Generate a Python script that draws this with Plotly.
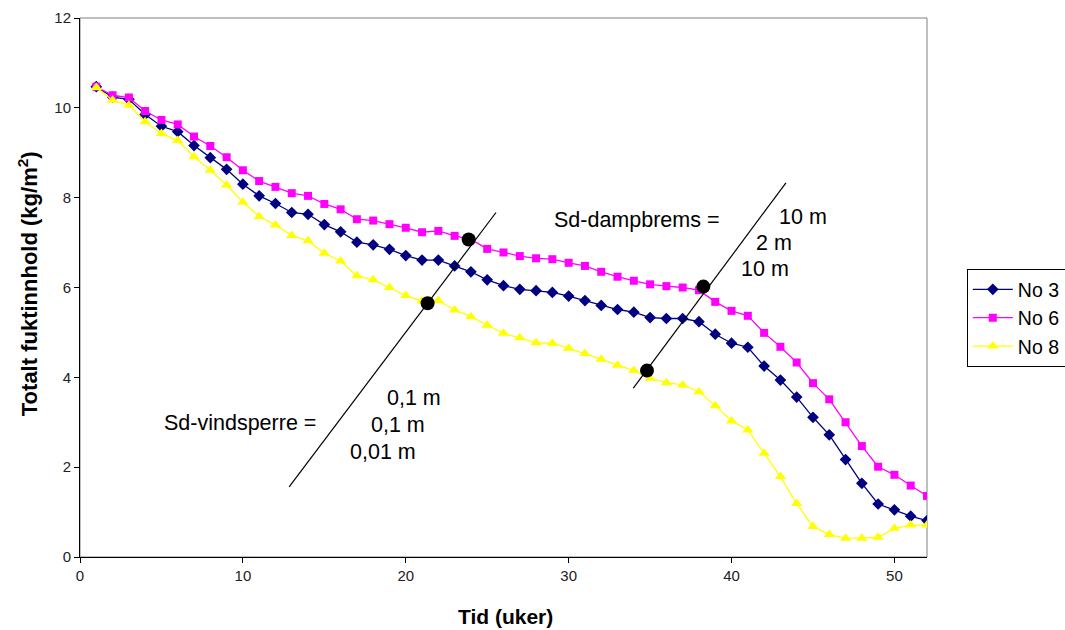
import plotly.graph_objects as go

weeks = list(range(1, 53))

no3 = [10.47, 10.24, 10.19, 9.85, 9.59, 9.47, 9.16, 8.89, 8.63, 8.30,
       8.04, 7.87, 7.67, 7.63, 7.40, 7.24, 7.01, 6.95, 6.85, 6.71,
       6.61, 6.61, 6.48, 6.35, 6.17, 6.04, 5.96, 5.93, 5.89, 5.81,
       5.71, 5.60, 5.51, 5.45, 5.33, 5.31, 5.31, 5.24, 4.96, 4.76,
       4.67, 4.25, 3.94, 3.56, 3.11, 2.72, 2.17, 1.64, 1.18, 1.05, 0.91, 0.81]

no6 = [10.47, 10.28, 10.23, 9.93, 9.73, 9.63, 9.36, 9.15, 8.90, 8.61,
       8.37, 8.24, 8.10, 8.04, 7.86, 7.74, 7.52, 7.49, 7.41, 7.33,
       7.23, 7.26, 7.15, 7.07, 6.86, 6.78, 6.70, 6.65, 6.63, 6.55,
       6.48, 6.35, 6.24, 6.15, 6.07, 6.03, 6.00, 5.94, 5.68, 5.48,
       5.37, 4.99, 4.68, 4.33, 3.87, 3.51, 3.00, 2.47, 2.01, 1.83, 1.59, 1.36]

no8 = [10.45, 10.17, 10.06, 9.69, 9.43, 9.27, 8.91, 8.61, 8.28, 7.90,
       7.58, 7.39, 7.16, 7.04, 6.76, 6.59, 6.26, 6.17, 6.00, 5.82,
       5.70, 5.71, 5.50, 5.35, 5.16, 4.98, 4.88, 4.77, 4.76, 4.65,
       4.53, 4.40, 4.27, 4.15, 3.98, 3.88, 3.83, 3.68, 3.37, 3.03,
       2.83, 2.31, 1.79, 1.19, 0.68, 0.50, 0.42, 0.42, 0.44, 0.64, 0.71, 0.71]

# marker lines (Sd-vindsperre, Sd-dampbrems)
vind_x = [12.84, 25.54]
vind_y = [1.56, 7.67]
damp_x = [33.97, 43.34]
damp_y = [3.76, 8.33]

# black intersection dots
dot_x = [23.86, 21.34, 38.27, 34.81]
dot_y = [7.07, 5.65, 6.02, 4.15]

# annotation texts: (text, x, y)
labels_text = ["Sd-dampbrems =", "10 m", "2 m", "10 m",
               "Sd-vindsperre =", "0,1 m", "0,1 m", "0,01 m"]
labels_x = [29.0, 42.8, 41.4, 40.48, 5.05, 18.75, 17.76, 16.47]
labels_y = [7.50, 7.57, 6.99, 6.41, 2.98, 3.54, 2.94, 2.34]

FONT = "Arial, Liberation Sans, sans-serif"

fig = go.Figure()
fig.add_trace(go.Scatter(x=weeks, y=no3, name="No 3", mode="lines+markers",
                         line=dict(color="#000080", width=1.3),
                         marker=dict(symbol="diamond", size=9, color="#000080")))
fig.add_trace(go.Scatter(x=weeks, y=no6, name="No 6", mode="lines+markers",
                         line=dict(color="#FF00FF", width=1.3),
                         marker=dict(symbol="square", size=8, color="#FF00FF")))
fig.add_trace(go.Scatter(x=weeks, y=no8, name="No 8", mode="lines+markers",
                         line=dict(color="#FFFF00", width=1.3),
                         marker=dict(symbol="triangle-up", size=10, color="#FFFF00")))

fig.add_trace(go.Scatter(x=vind_x, y=vind_y, mode="lines", showlegend=False,
                         line=dict(color="black", width=1.2), hoverinfo="skip"))
fig.add_trace(go.Scatter(x=damp_x, y=damp_y, mode="lines", showlegend=False,
                         line=dict(color="black", width=1.2), hoverinfo="skip"))
fig.add_trace(go.Scatter(x=dot_x, y=dot_y, mode="markers", showlegend=False,
                         marker=dict(symbol="circle", size=14, color="black"),
                         hoverinfo="skip"))

for t, x, y in zip(labels_text, labels_x, labels_y):
    fig.add_annotation(x=x, y=y, text=t, showarrow=False, xanchor="left",
                       yanchor="middle", font=dict(family=FONT, size=21.5, color="black"))

fig.add_annotation(x=-0.0614, y=0.508, xref="paper", yref="paper",
                   text="<b>Totalt fuktinnhold (kg/m<sup>2</sup>)</b>", textangle=-90,
                   showarrow=False, xanchor="center", yanchor="middle",
                   font=dict(family=FONT, size=22, color="black"))
fig.add_annotation(x=0.502, y=-0.111, xref="paper", yref="paper",
                   text="<b>Tid (uker)</b>", showarrow=False,
                   xanchor="center", yanchor="middle",
                   font=dict(family=FONT, size=21, color="black"))

fig.add_shape(type="rect", xref="paper", yref="paper", x0=0, y0=0, x1=1, y1=1,
              line=dict(color="#808080", width=1), layer="below")

fig.update_layout(
    width=1065, height=630,
    margin=dict(l=80, r=138, t=18, b=73, autoexpand=False),
    paper_bgcolor="white", plot_bgcolor="white",
    font=dict(family=FONT, size=15, color="black"),
    showlegend=True,
    legend=dict(x=1.047, y=0.534, xanchor="left", yanchor="top",
                bordercolor="black", borderwidth=1, bgcolor="white",
                font=dict(family=FONT, size=19.5, color="black"),
                itemwidth=40, tracegroupgap=0),
    xaxis=dict(range=[0, 52], tick0=0, dtick=10, showgrid=False, zeroline=False,
               showline=True, linecolor="black", linewidth=1,
               ticks="outside", ticklen=5, tickcolor="black",
               tickfont=dict(family=FONT, size=15, color="#222")),
    yaxis=dict(range=[0, 12], tick0=0, dtick=2, showgrid=False, zeroline=False,
               showline=True, linecolor="black", linewidth=1,
               ticks="outside", ticklen=5, tickcolor="black",
               tickfont=dict(family=FONT, size=15, color="#222")),
)

fig.write_html("out.html")
